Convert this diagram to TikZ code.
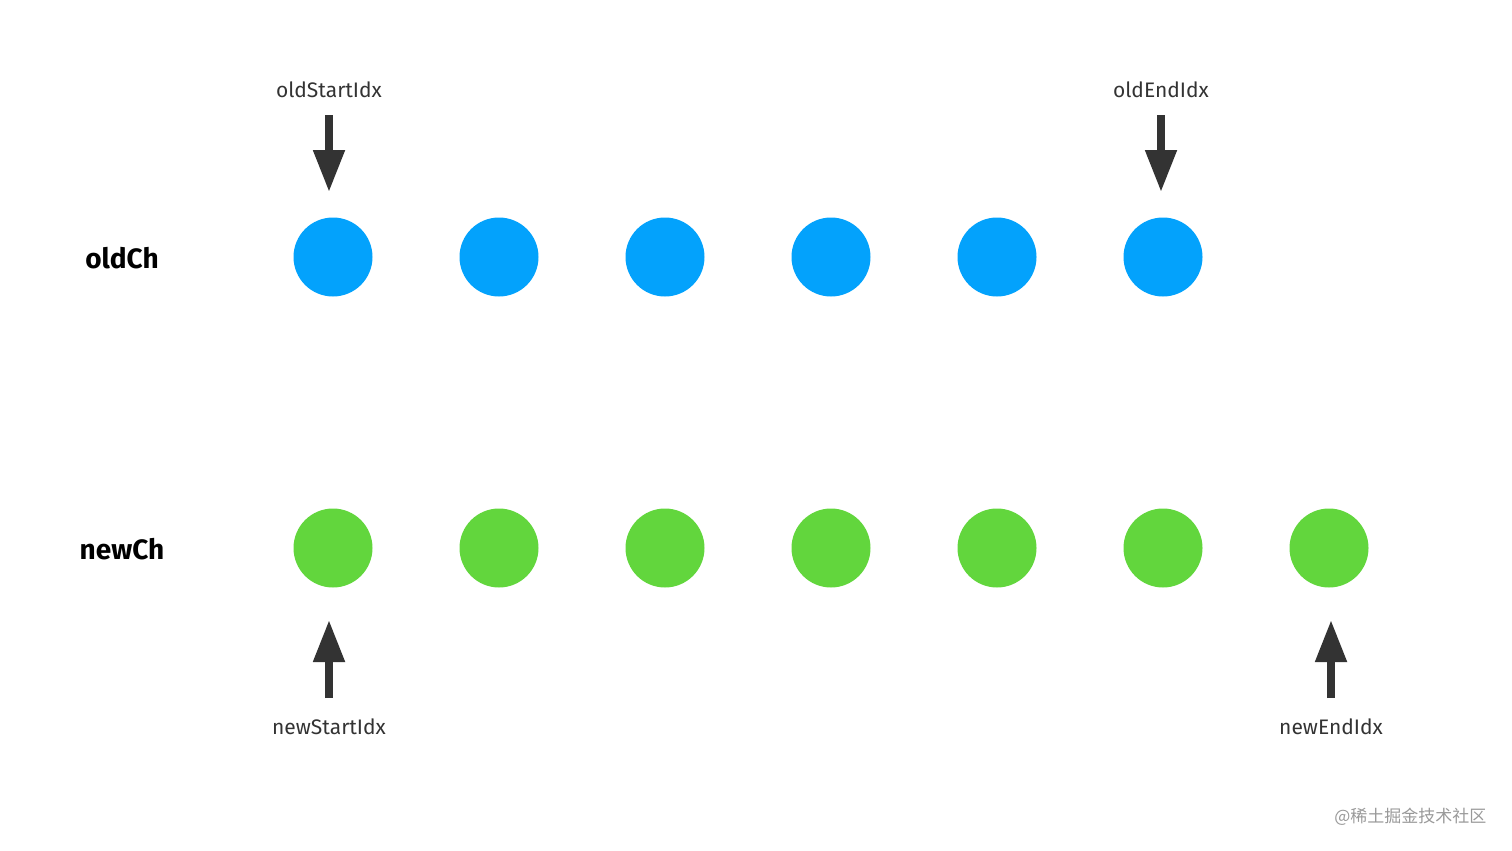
\documentclass[tikz,border=0pt]{standalone}
\usepackage{fontspec}
\setmainfont{Fira Sans}
\newfontfamily\cjk{Noto Sans CJK SC}
\usetikzlibrary{arrows.meta}
\definecolor{bluec}{HTML}{03A2FC}
\definecolor{greenc}{HTML}{62D63D}
\definecolor{arr}{HTML}{333333}
\begin{document}
\begin{tikzpicture}[x=1pt,y=-1pt,
  bdot/.style={circle,fill=bluec,minimum size=79pt,inner sep=0},
  gdot/.style={circle,fill=greenc,minimum size=79pt,inner sep=0},
  lbl/.style={font=\fontsize{21}{24}\selectfont,text=arr},
  row/.style={font=\fontsize{28}{32}\selectfont\bfseries,text=black},
  ptr/.style={draw=arr,line width=8pt,-{Triangle[width=30pt,length=42pt]}}]
\useasboundingbox (0,0) rectangle (1512,851);
\foreach \i in {1,...,6} \node[bdot] (b\i) at (333+166*\i-166,257) {};
\foreach \i in {1,...,7} \node[gdot] (g\i) at (333+166*\i-166,548) {};
\node[row] (oc) at (122,258) {oldCh};
\node[row] (nc) at (122,549) {newCh};
\node[lbl] (l1) at (329,90) {oldStartIdx};
\node[lbl] (l2) at (1161,90) {oldEndIdx};
\node[lbl] (l3) at (329,727) {newStartIdx};
\node[lbl] (l4) at (1331,727) {newEndIdx};
\coordinate (a1s) at (329,115); \coordinate (a1e) at (329,192);
\coordinate (a2s) at (1161,115); \coordinate (a2e) at (1161,192);
\coordinate (a3s) at (329,698); \coordinate (a3e) at (329,620);
\coordinate (a4s) at (1331,698); \coordinate (a4e) at (1331,620);
\draw[ptr] (a1s) -- (a1e);
\draw[ptr] (a2s) -- (a2e);
\draw[ptr] (a3s) -- (a3e);
\draw[ptr] (a4s) -- (a4e);
\node[font=\cjk\fontsize{17}{20}\selectfont,text=gray!80,anchor=east] (wm) at (1490,817) {@稀土掘金技术社区};
\end{tikzpicture}
\end{document}
